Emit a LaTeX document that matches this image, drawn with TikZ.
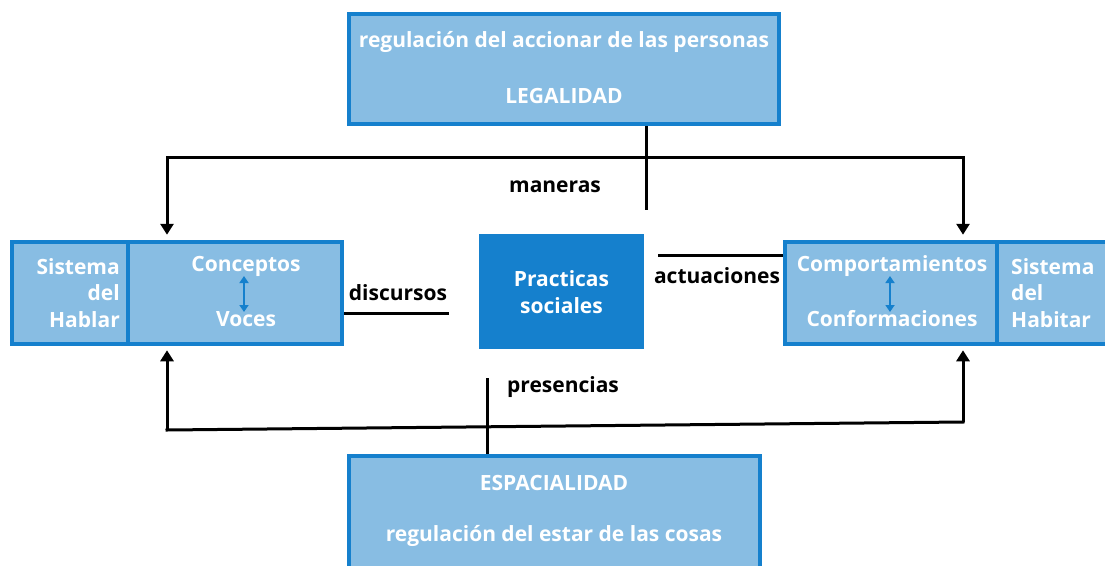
\documentclass[tikz,border=0pt]{standalone}
\usepackage{fontspec}
\setmainfont{Open Sans}
\usetikzlibrary{arrows.meta,calc}
\definecolor{lightblue}{HTML}{88BDE3}
\definecolor{darkblue}{HTML}{1580CD}
\begin{document}
\begin{tikzpicture}[x=1pt,y=-1pt,
  box/.style={draw=darkblue,fill=lightblue,line width=4.5pt,inner sep=0pt},
  wtxt/.style={text=white,font=\fontsize{21}{26.5}\selectfont\bfseries,inner sep=0pt},
  btxt/.style={text=black,font=\fontsize{21}{24}\selectfont\bfseries,inner sep=0pt},
  conn/.style={line width=3pt,black},
  arr/.style={conn,-{Triangle[length=11pt,width=13pt]}},
  small/.style={darkblue,line width=2.6pt,{Triangle[length=7pt,width=9pt]}-{Triangle[length=7pt,width=9pt]}}
]
\useasboundingbox (0,0) rectangle (1105,565);
% boxes
\node[box,minimum width=430pt,minimum height=110pt] (legal) at (564,69) {};
\node[wtxt] (legal1) at (564,42) {regulación del accionar de las personas};
\node[wtxt] (legal2) at (564,96) {LEGALIDAD};

\node[box,minimum width=116pt,minimum height=102pt] (lsys) at (70,293) {};
\node[box,minimum width=214pt,minimum height=102pt] (lcon) at (235,293) {};
\node[wtxt,align=right,anchor=east] (lsyst) at (120,293) {Sistema\\del\\Hablar};
\node[wtxt] (cpt) at (246,266) {Conceptos};
\node[wtxt] (voc) at (246,319) {Voces};
\draw[small] (244,276) -- (244,312);

\node[draw=darkblue,fill=darkblue,line width=1pt,minimum width=164pt,minimum height=114pt,inner sep=0pt] (prac) at (561.5,291.5) {};
\node[wtxt,align=center] (pract) at (561.5,292) {Practicas\\sociales};

\node[box,minimum width=212pt,minimum height=102pt] (rcom) at (891,293) {};
\node[box,minimum width=116pt,minimum height=102pt] (rsys) at (1055,293) {};
\node[wtxt,align=left,anchor=west] (rsyst) at (1011,293) {Sistema\\del\\Habitar};
\node[wtxt] (comp) at (892,266) {Comportamientos};
\node[wtxt] (conf) at (892,319) {Conformaciones};
\draw[small] (890,276) -- (890,312);

\node[box,minimum width=411pt,minimum height=120pt] (esp) at (554.5,516) {};
\node[wtxt] (esp1) at (554,483) {ESPACIALIDAD};
\node[wtxt] (esp2) at (554,536) {regulación del estar de las cosas};

% labels
\node[btxt] (maneras) at (555,187) {maneras};
\node[btxt] (presencias) at (563,387) {presencias};
\node[btxt] (discursos) at (398,293) {discursos};
\node[btxt] (actuaciones) at (717,276) {actuaciones};

% top connectors
\coordinate (mt) at (646,210);
\coordinate (tl) at (167,157);
\coordinate (tr) at (963,157);
\draw[conn] (legal.south -| mt) -- (mt);
\draw[conn,line cap=rect] (tl) -- (tr);
\draw[arr,shorten >=5pt] (tl) -- (tl |- lcon.north);
\draw[arr,shorten >=5pt] (tr) -- (tr |- rcom.north);

% bottom connectors
\coordinate (mb) at (487,378);
\coordinate (bl) at (167,430);
\coordinate (br) at (963,422);
\draw[conn] (mb) -- (mb |- esp.north);
\draw[conn,line cap=rect] (bl) -- (br);
\draw[arr,shorten >=4pt] (bl) -- (bl |- lcon.south);
\draw[arr,shorten >=4pt] (br) -- (br |- rcom.south);

% side lines
\coordinate (dend) at (449,313);
\coordinate (astart) at (658,255);
\draw[conn] (lcon.east |- dend) -- (dend);
\draw[conn] (astart) -- (astart -| rcom.west);
\end{tikzpicture}
\end{document}
